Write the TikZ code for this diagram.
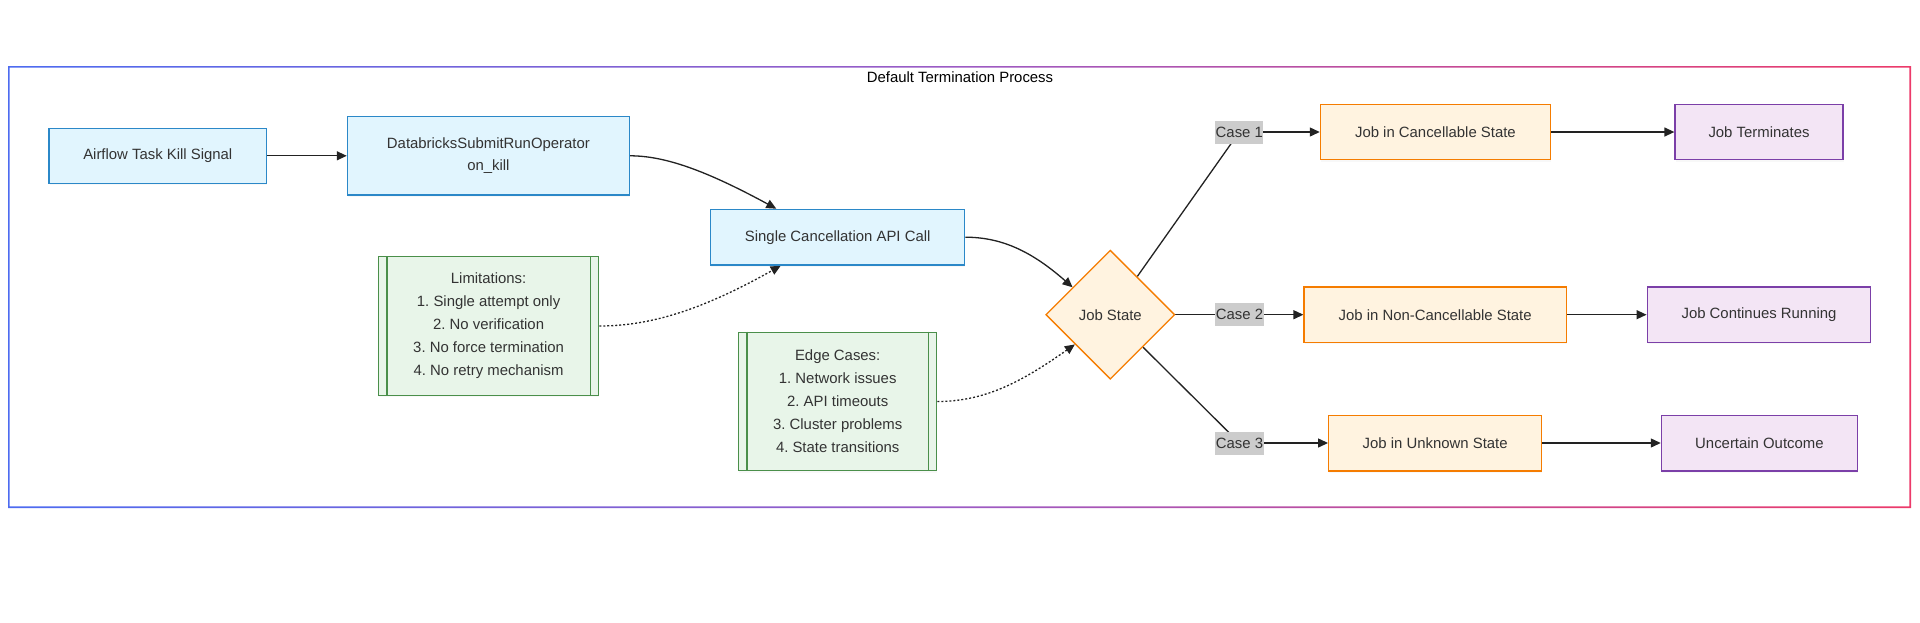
\documentclass[tikz,border=0pt]{standalone}
\usepackage{fontspec}
\setmainfont{Liberation Sans}
\usetikzlibrary{arrows.meta,shapes.geometric,shadows}
\pgfdeclarelayer{background}
\pgfsetlayers{background,main}
\definecolor{bfill}{HTML}{E1F5FE}
\definecolor{bline}{HTML}{2B88C8}
\definecolor{ofill}{HTML}{FFF3E0}
\definecolor{oline}{HTML}{F57C00}
\definecolor{pfill}{HTML}{F3E5F5}
\definecolor{pline}{HTML}{7B3FA8}
\definecolor{gfill}{HTML}{E8F5E9}
\definecolor{gline}{HTML}{4A8F4A}
\definecolor{lblfill}{HTML}{CCCCCC}
\definecolor{txt}{HTML}{333333}
\definecolor{edgec}{HTML}{222222}
\definecolor{frl}{HTML}{4D6BF0}
\definecolor{frm}{HTML}{9C5BC4}
\definecolor{frr}{HTML}{EC3A6A}
\frenchspacing
\begin{document}
\begin{tikzpicture}[x=1pt,y=-1pt,
  font=\fontsize{14.9}{22}\selectfont,
  box/.style={draw, line width=1.3pt, inner sep=0pt, align=center, text=txt,
    drop shadow={shadow xshift=0.5pt, shadow yshift=-2pt, opacity=0.06}},
  bluebox/.style={box, fill=bfill, draw=bline},
  orangebox/.style={box, fill=ofill, draw=oline},
  purplebox/.style={box, fill=pfill, draw=pline},
  notebox/.style={box, fill=gfill, draw=gline, font=\fontsize{14.9}{23}\selectfont},
  decision/.style={diamond, aspect=1, draw=oline, fill=ofill, line width=1.3pt,
    minimum width=129pt, minimum height=129pt, inner sep=0pt, text=txt},
  caselbl/.style={fill=lblfill, text=txt, inner sep=0.5pt, minimum height=23pt, minimum width=48pt},
  flow/.style={draw=edgec, line width=1.3pt, -{Triangle[length=10pt,width=9pt]}},
  plainflow/.style={draw=edgec, line width=1.3pt},
  dotflow/.style={draw=edgec, line width=1.3pt, dash pattern=on 2pt off 2pt, -{Triangle[length=10pt,width=9pt]}},
  innerline/.style={draw=gline, line width=1.3pt}
]
\useasboundingbox (0,0) rectangle (1920,622);

% frame
\shade[even odd rule, left color=frl, right color=frr, middle color=frm]
  (8,66) rectangle (1911,508) (9.6,67.6) rectangle (1909.4,506.4);
\node[text=black] (title) at (960,77.5) {Default Termination Process};

% nodes
\node[bluebox, minimum width=217.5pt, minimum height=55pt] (air) at (157.8,155.8) {Airflow Task Kill Signal};
\node[bluebox, minimum width=282pt, minimum height=78.3pt] (db) at (488.4,155.8) {DatabricksSubmitRunOperator\\on\_kill};
\node[bluebox, minimum width=254pt, minimum height=55.7pt] (sc) at (837.7,237.2) {Single Cancellation API Call};
\node[decision] (js) at (1110.3,314.7) {Job State};

\node[orangebox, minimum width=230pt, minimum height=55.3pt] (jc) at (1435.4,132) {Job in Cancellable State};
\node[purplebox, minimum width=168pt, minimum height=55.3pt] (jt) at (1759,132) {Job Terminates};
\node[orangebox, minimum width=262.3pt, minimum height=55.4pt] (jn) at (1435.2,314.7) {Job in Non-Cancellable State};
\node[purplebox, minimum width=223.6pt, minimum height=55.4pt] (jr) at (1759,314.7) {Job Continues Running};
\node[orangebox, minimum width=213pt, minimum height=55.7pt] (ju) at (1435.2,443) {Job in Unknown State};
\node[purplebox, minimum width=196pt, minimum height=55.7pt] (uo) at (1759.4,443) {Uncertain Outcome};

\node[notebox, minimum width=220pt, minimum height=138.7pt] (lim) at (488.6,326)
  {Limitations:\\1. Single attempt only\\2. No verification\\3. No force termination\\4. No retry mechanism};
\draw[innerline] ([xshift=9pt]lim.north west) -- ([xshift=9pt]lim.south west);
\draw[innerline] ([xshift=-9pt]lim.north east) -- ([xshift=-9pt]lim.south east);
\node[notebox, minimum width=198pt, minimum height=138.4pt] (edg) at (837.7,401.5)
  {Edge Cases:\\1. Network issues\\2. API timeouts\\3. Cluster problems\\4. State transitions};
\draw[innerline] ([xshift=9pt]edg.north west) -- ([xshift=9pt]edg.south west);
\draw[innerline] ([xshift=-9pt]edg.north east) -- ([xshift=-9pt]edg.south east);

\node[caselbl] (c1) at (1239.3,132) {Case 1};
\node[caselbl] (c2) at (1239.5,314.7) {Case 2};
\node[caselbl] (c3) at (1239.5,443) {Case 3};

% connectors
\begin{pgfonlayer}{background}
\draw[flow] (air.east) -- (db.west);
\draw[flow] (db.east) .. controls +(35,0) and +(-70,-38) .. ([xshift=-61.4pt]sc.north);
\draw[flow] (sc.east) .. controls +(35,0) and +(-42,-37) .. (js.144);
\draw[dotflow] (lim.east) .. controls +(50,0) and +(-80,45) .. ([xshift=-57pt]sc.south);
\draw[dotflow] (edg.east) .. controls +(50,0) and +(-50,35) .. (js.220);

\draw[plainflow] (js) -- (c1.center);
\draw[flow] (c1.center) -- (jc.west);
\draw[flow] (js.east) -- (jn.west);
\draw[plainflow] (js) -- (c3.center);
\draw[flow] (c3.center) -- (ju.west);

\draw[flow] (jc.east) -- (jt.west);
\draw[flow] (jn.east) -- (jr.west);
\draw[flow] (ju.east) -- (uo.west);
\end{pgfonlayer}
\end{tikzpicture}
\end{document}
